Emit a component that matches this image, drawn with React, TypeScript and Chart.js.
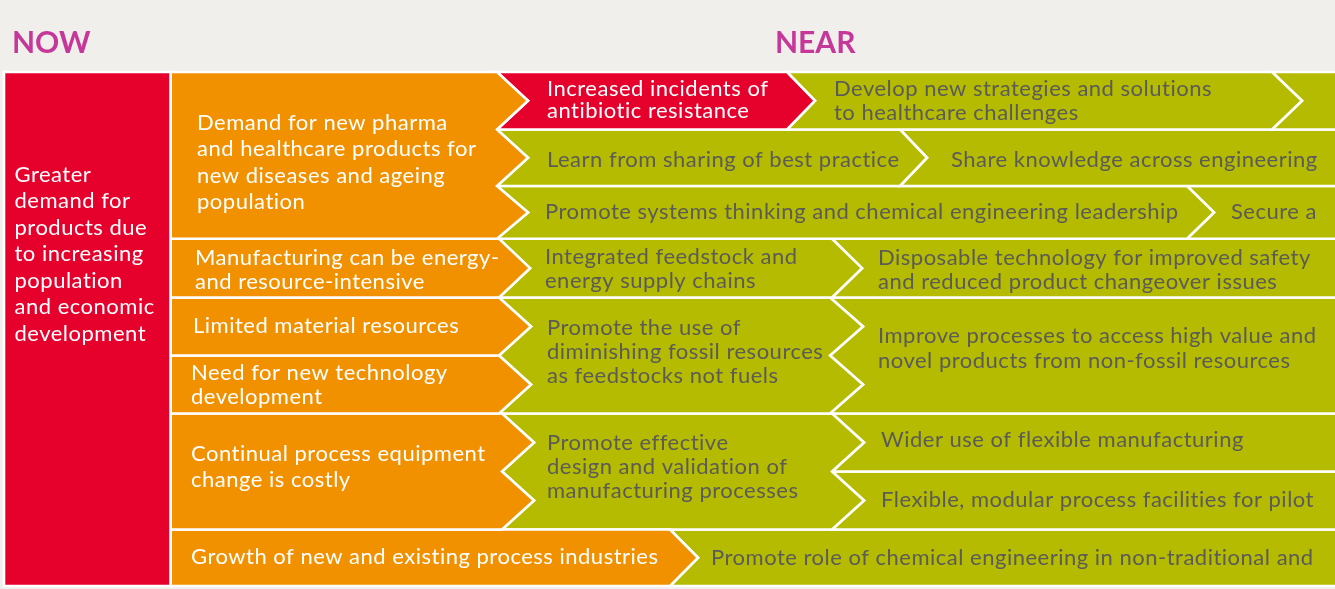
import React, { useEffect, useRef } from 'react';
import { Chart, registerables } from 'chart.js';

Chart.register(...registerables);

const W = 1335;
const H = 589;

// Horizontal band edges of the roadmap (data units, y grows downward)
const rowY = [72, 129.5, 186, 238.8, 297.5, 355.5, 413.5, 471.5, 529.5, 586];

const COLORS = {
  bg: '#f0efeb',
  panel: '#ffffff',
  red: '#e6002c',
  orange: '#f29100',
  green: '#b5bb00',
  title: '#c5389a',
  white: '#ffffff',
  gray: '#5b5b58',
};

// Column titles
const titles = ['NOW', 'NEAR'];
const titleX = [12, 775];

// Text of every block
const nowText = ['Greater', 'demand for', 'products due', 'to increasing', 'population', 'and economic', 'development'];
const driverTexts = [
  ['Demand for new pharma', 'and healthcare products for', 'new diseases and ageing', 'population'],
  ['Manufacturing can be energy-', 'and resource-intensive'],
  ['Limited material resources'],
  ['Need for new technology', 'development'],
  ['Continual process equipment', 'change is costly'],
  ['Growth of new and existing process industries'],
];
const actionTexts = [
  ['Increased incidents of', 'antibiotic resistance'],
  ['Develop new strategies and solutions', 'to healthcare challenges'],
  [],
  ['Learn from sharing of best practice'],
  ['Share knowledge across engineering'],
  ['Promote systems thinking and chemical engineering leadership'],
  ['Secure a'],
  ['Integrated feedstock and', 'energy supply chains'],
  ['Disposable technology for improved safety', 'and reduced product changeover issues'],
  ['Promote the use of', 'diminishing fossil resources', 'as feedstocks not fuels'],
  ['Improve processes to access high value and', 'novel products from non-fossil resources'],
  ['Promote effective', 'design and validation of', 'manufacturing processes'],
  ['Wider use of flexible manufacturing'],
  ['Flexible, modular process facilities for pilot'],
  ['Promote role of chemical engineering in non-traditional and'],
];

type Shape = {
  rows: number[]; // indices into rowY
  x0: number; dl: number; // left edge x and notch depth (0 = flat)
  x1: number; dr: number; // right edge x and tip depth (0 = flat)
  fill: string;
  lines: string[];
  tx: number; tb: number; lh: number; tc: string;
};

const nowShape: Shape = { rows: [0, 9], x0: 4, dl: 0, x1: 170.5, dr: 0, fill: COLORS.red, lines: nowText, tx: 14.5, tb: 181.5, lh: 26.5, tc: COLORS.white };

const driverGeom = [
  { rows: [0, 1, 2, 3], x1: 497, dr: 31, tx: 197, tb: 129.5, lh: 26.5 },
  { rows: [3, 4], x1: 499, dr: 31, tx: 195, tb: 265, lh: 24 },
  { rows: [4, 5], x1: 499, dr: 32, tx: 193, tb: 333, lh: 24 },
  { rows: [5, 6], x1: 499, dr: 32, tx: 191, tb: 380, lh: 23.5 },
  { rows: [6, 7, 8], x1: 502, dr: 32, tx: 191, tb: 461, lh: 26 },
  { rows: [8, 9], x1: 670, dr: 28, tx: 191, tb: 564, lh: 24 },
];

const actionGeom = [
  { rows: [0, 1], x0: 497, dl: 31, x1: 787, dr: 28, red: true, tx: 547, tb: 96, lh: 22 },
  { rows: [0, 1], x0: 787, dl: 28, x1: 1272, dr: 30, tx: 834, tb: 96, lh: 24 },
  { rows: [0, 1], x0: 1272, dl: 30, x1: 1345, dr: 0, tx: 1300, tb: 96, lh: 24 },
  { rows: [1, 2], x0: 497, dl: 31, x1: 900, dr: 27, tx: 547, tb: 167, lh: 24 },
  { rows: [1, 2], x0: 900, dl: 27, x1: 1345, dr: 0, tx: 951, tb: 167, lh: 24 },
  { rows: [2, 3], x0: 497, dl: 31, x1: 1187, dr: 27, tx: 545, tb: 219, lh: 24 },
  { rows: [2, 3], x0: 1187, dl: 27, x1: 1345, dr: 0, tx: 1231, tb: 219, lh: 24 },
  { rows: [3, 4], x0: 499, dl: 31, x1: 832, dr: 30, tx: 545, tb: 264, lh: 24 },
  { rows: [3, 4], x0: 832, dl: 30, x1: 1345, dr: 0, tx: 878, tb: 265, lh: 24 },
  { rows: [4, 5, 6], x0: 499, dl: 32, x1: 830, dr: 33, tx: 547, tb: 335, lh: 24 },
  { rows: [4, 5, 6], x0: 830, dl: 33, x1: 1345, dr: 0, tx: 878, tb: 343, lh: 25 },
  { rows: [6, 7, 8], x0: 502, dl: 32, x1: 832, dr: 32, tx: 547, tb: 450, lh: 24 },
  { rows: [6, 7], x0: 832, dl: 32, x1: 1345, dr: 0, tx: 881, tb: 447, lh: 24 },
  { rows: [7, 8], x0: 832, dl: 32, x1: 1345, dr: 0, tx: 881, tb: 507, lh: 24 },
  { rows: [8, 9], x0: 670, dl: 28, x1: 1345, dr: 0, tx: 711, tb: 565, lh: 24 },
];

const shapes: Shape[] = [
  nowShape,
  ...driverGeom.map((g, i) => ({ ...g, x0: 170.5, dl: 0, fill: COLORS.orange, lines: driverTexts[i], tc: COLORS.white })),
  ...actionGeom.map((g, i) => ({
    rows: g.rows, x0: g.x0, dl: g.dl, x1: g.x1, dr: g.dr,
    fill: g.red ? COLORS.red : COLORS.green,
    lines: actionTexts[i], tx: g.tx, tb: g.tb, lh: g.lh,
    tc: g.red ? COLORS.white : COLORS.gray,
  })),
];

function buildPolygon(s: Shape) {
  const ys = s.rows.map((i) => rowY[i]);
  const y0 = ys[0];
  const y1 = ys[ys.length - 1];
  const xm = (s.x0 + s.x1) / 2;
  const pts: { x: number; y: number }[] = [];
  pts.push({ x: xm, y: y0 });
  pts.push({ x: s.x1, y: y0 });
  if (s.dr) {
    for (let k = 0; k < ys.length - 1; k++) {
      pts.push({ x: s.x1 + s.dr, y: (ys[k] + ys[k + 1]) / 2 });
      pts.push({ x: s.x1, y: ys[k + 1] });
    }
  } else {
    pts.push({ x: s.x1, y: y1 });
  }
  pts.push({ x: s.x0, y: y1 });
  if (s.dl) {
    for (let k = ys.length - 1; k > 0; k--) {
      pts.push({ x: s.x0 + s.dl, y: (ys[k] + ys[k - 1]) / 2 });
      pts.push({ x: s.x0, y: ys[k - 1] });
    }
  } else {
    pts.push({ x: s.x0, y: y0 });
  }
  pts.push({ x: xm, y: y0 });
  return pts;
}

const panelPoly = [
  { x: 670, y: 71 }, { x: 1345, y: 71 }, { x: 1345, y: 587 }, { x: 3, y: 587 }, { x: 3, y: 71 }, { x: 670, y: 71 },
];

const FONT = 'Lato, "Open Sans", sans-serif';

const labelPlugin = {
  id: 'roadmapLabels',
  afterDatasetsDraw(chart: any) {
    const { ctx, scales } = chart;
    const px = (v: number) => scales.x.getPixelForValue(v);
    const py = (v: number) => scales.y.getPixelForValue(v);
    ctx.save();
    ctx.textAlign = 'left';
    ctx.textBaseline = 'alphabetic';
    ctx.font = `bold 30px ${FONT}`;
    ctx.fillStyle = COLORS.title;
    try { ctx.letterSpacing = '0px'; } catch (e) { /* ignore */ }
    titles.forEach((t, i) => ctx.fillText(t, px(titleX[i]), py(53)));
    ctx.font = `22px ${FONT}`;
    try { ctx.letterSpacing = '0.5px'; } catch (e) { /* ignore */ }
    shapes.forEach((s) => {
      ctx.fillStyle = s.tc;
      s.lines.forEach((line, j) => ctx.fillText(line, px(s.tx), py(s.tb + j * s.lh)));
    });
    ctx.restore();
  },
};

export default function App() {
  const ref = useRef<HTMLCanvasElement | null>(null);
  useEffect(() => {
    document.body.style.margin = '0';
    document.body.style.background = COLORS.bg;
    let chart: Chart | null = null;
    let cancelled = false;
    const make = () => {
      if (cancelled || !ref.current) return;
      const datasets: any[] = [];
      shapes.forEach((s) => {
        datasets.push({
          data: buildPolygon(s),
          fill: 'shape',
          backgroundColor: s.fill,
          borderColor: COLORS.white,
          borderWidth: 2.6,
          borderJoinStyle: 'miter',
          pointRadius: 0,
          pointHoverRadius: 0,
          tension: 0,
        });
      });
      datasets.push({
        data: panelPoly,
        fill: 'shape',
        backgroundColor: COLORS.panel,
        borderColor: COLORS.panel,
        borderWidth: 0,
        pointRadius: 0,
        tension: 0,
      });
      chart = new Chart(ref.current, {
        type: 'line',
        data: { datasets },
        options: {
          animation: false,
          responsive: false,
          devicePixelRatio: 1,
          events: [],
          layout: { padding: 0 },
          scales: {
            x: { type: 'linear', min: 0, max: W, display: false },
            y: { type: 'linear', min: 0, max: H, reverse: true, display: false },
          },
          plugins: {
            legend: { display: false },
            tooltip: { enabled: false },
          },
        } as any,
        plugins: [labelPlugin],
      });
    };
    const fonts: any = (document as any).fonts;
    if (fonts && fonts.load) {
      Promise.all([fonts.load(`22px Lato`), fonts.load(`bold 30px Lato`)]).then(make, make);
    } else {
      make();
    }
    return () => {
      cancelled = true;
      if (chart) chart.destroy();
    };
  }, []);
  return (
    <div style={{ width: W, height: H, background: COLORS.bg }}>
      <canvas ref={ref} width={W} height={H} style={{ display: 'block', width: W, height: H }} />
    </div>
  );
}
